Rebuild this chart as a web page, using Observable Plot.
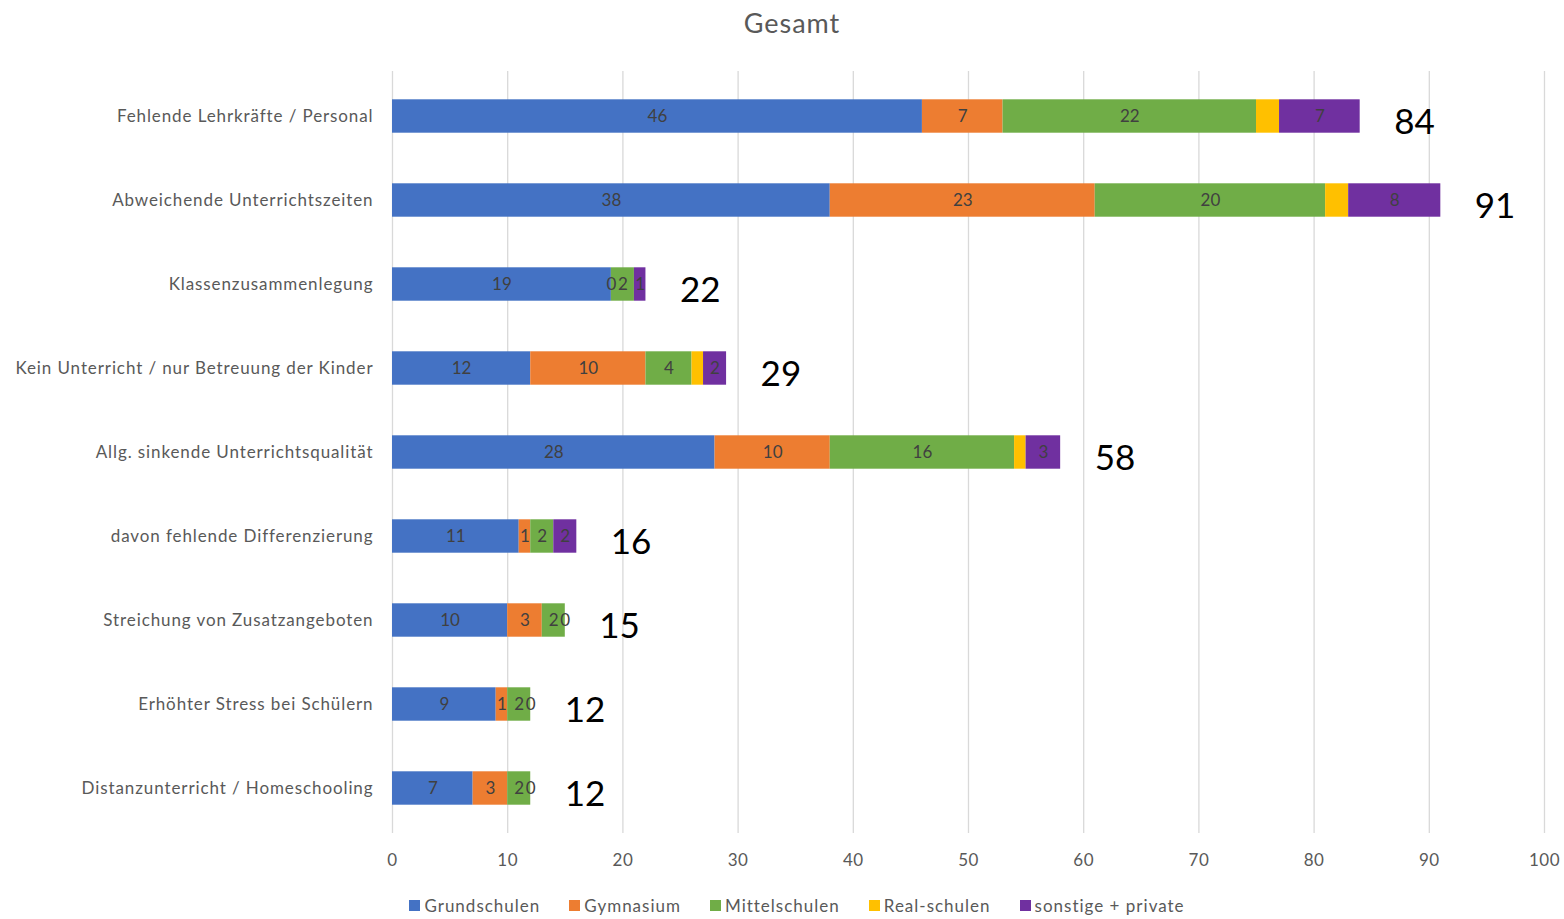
<!DOCTYPE html>
<html>
<head>
<meta charset="utf-8">
<script src="https://cdn.jsdelivr.net/npm/d3@7"></script>
<script src="https://cdn.jsdelivr.net/npm/@observablehq/plot@0.6"></script>
<style>
  html, body { margin: 0; padding: 0; background: #fff; }
  body { width: 1564px; height: 919px; position: relative; overflow: hidden; font-family: Lato, "Open Sans", sans-serif; }
  #title { position: absolute; top: 6px; left: 0; width: 1584px; text-align: center; font-size: 27px; letter-spacing: 1px; color: #595959; z-index: 2; }
  #chart { position: absolute; top: 0; left: 0; z-index: 1; }
  #legend { position: absolute; top: 895px; left: 0; width: 1594px; display: flex; justify-content: center; gap: 29px; font-size: 17px; letter-spacing: 1px; color: #595959; z-index: 2; }
  #legend .item { display: flex; align-items: center; gap: 4px; }
  #legend .sw { width: 11px; height: 11px; display: inline-block; }
  #chart svg g[aria-label="y-axis tick label"] text { letter-spacing: 0.9px; }
  #chart svg g[aria-label="x-axis tick label"] text { letter-spacing: 0.5px; }
</style>
</head>
<body>
<div id="title">Gesamt</div>
<div id="chart"></div>
<div id="legend"></div>
<script>
const categories = [
  "Fehlende Lehrkräfte / Personal",
  "Abweichende Unterrichtszeiten",
  "Klassenzusammenlegung",
  "Kein Unterricht / nur Betreuung der Kinder",
  "Allg. sinkende Unterrichtsqualität",
  "davon fehlende Differenzierung",
  "Streichung von Zusatzangeboten",
  "Erhöhter Stress bei Schülern",
  "Distanzunterricht / Homeschooling"
];
const schools = ["Grundschulen", "Gymnasium", "Mittelschulen", "Real-schulen", "sonstige + private"];
const colors = ["#4472C4", "#ED7D31", "#70AD47", "#FFC000", "#7030A0"];

const grundschulen = [46, 38, 19, 12, 28, 11, 10, 9, 7];
const gymnasium    = [7, 23, 0, 10, 10, 1, 3, 1, 3];
const mittelschulen= [22, 20, 2, 4, 16, 2, 2, 2, 2];
const realschulen  = [2, 2, 0, 1, 1, 0, 0, 0, 0];
const sonstige     = [7, 8, 1, 2, 3, 2, 0, 0, 0];
const xTicks = [0, 10, 20, 30, 40, 50, 60, 70, 80, 90, 100];

const series = [grundschulen, gymnasium, mittelschulen, realschulen, sonstige];
const data = [];
categories.forEach((c, i) => {
  schools.forEach((s, j) => data.push({cat: c, school: s, value: series[j][i]}));
});
const totals = categories.map(c => ({cat: c, total: d3.sum(data.filter(d => d.cat === c), d => d.value)}));

const chart = Plot.plot({
  width: 1564,
  height: 919,
  marginLeft: 392,
  marginRight: 20,
  marginTop: 71,
  marginBottom: 86,
  style: { fontFamily: "Lato, 'Open Sans', sans-serif", background: "transparent" },
  x: { domain: [0, 100], ticks: xTicks, label: null, tickSize: 0 },
  y: { domain: categories, padding: 0, label: null, tickSize: 0 },
  color: { domain: schools, range: colors },
  marks: [
    Plot.ruleX(xTicks, { stroke: "#d9d9d9", strokeWidth: 1.3 }),
    Plot.barX(data, Plot.stackX({ y: "cat", x: "value", z: "school", fill: "school", order: schools, insetTop: 25.3, insetBottom: 25.3 })),
    Plot.text(data, Plot.stackX({ y: "cat", x: "value", z: "school", order: schools,
      text: d => d.school === "Real-schulen" ? "" : String(d.value),
      fill: "#404040", fontSize: 17 })),
    Plot.text(totals, { x: "total", y: "cat", text: d => String(d.total), dx: 34, dy: 6, textAnchor: "start", fontSize: 35, fill: "#000" }),
    Plot.axisX({ ticks: xTicks, tickSize: 0, tickPadding: 20, fontSize: 17, color: "#595959", label: null }),
    Plot.axisY({ tickSize: 0, tickPadding: 19, fontSize: 17, color: "#595959", label: null })
  ]
});
document.getElementById("chart").appendChild(chart);

const legend = document.getElementById("legend");
schools.forEach((s, i) => {
  const item = document.createElement("div");
  item.className = "item";
  const sw = document.createElement("span");
  sw.className = "sw";
  sw.style.background = colors[i];
  const t = document.createElement("span");
  t.textContent = s;
  item.appendChild(sw);
  item.appendChild(t);
  legend.appendChild(item);
});
</script>
</body>
</html>
